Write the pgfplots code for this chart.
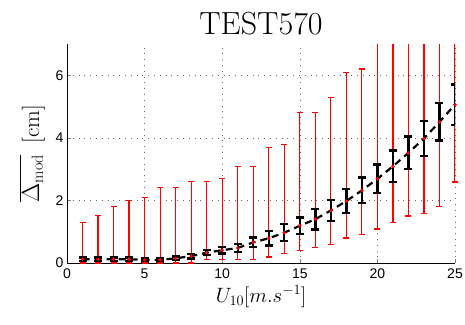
\documentclass[border=0pt]{standalone}
\usepackage{pgfplots}
\pgfplotsset{compat=1.18}
\usepackage{pgfplotstable}
\usepackage{fontspec}
\newfontfamily\ticksfont{Liberation Sans}
\definecolor{myred}{RGB}{255,0,0}
\pgfplotstableread{
x mean be rl rh
1 0.12 0.05 0 1.29
2 0.12 0.05 0 1.51
3 0.12 0.05 0 1.81
4 0.12 0.05 0 2.00
5 0.10 0.05 0 2.10
6 0.10 0.05 0 2.41
7 0.15 0.06 0 2.41
8 0.22 0.07 0 2.60
9 0.33 0.08 0.1 2.60
10 0.41 0.10 0.1 2.71
11 0.48 0.12 0.1 3.09
12 0.66 0.15 0.1 3.09
13 0.79 0.23 0.19 3.70
14 0.97 0.27 0.30 3.79
15 1.19 0.27 0.39 4.81
16 1.40 0.33 0.50 4.81
17 1.68 0.33 0.60 5.29
18 1.98 0.38 0.80 6.09
19 2.32 0.41 0.90 6.20
20 2.69 0.46 1.09 9
21 3.09 0.50 1.29 9
22 3.52 0.52 1.50 9
23 3.98 0.56 1.59 9
24 4.51 0.60 1.80 9
25 5.06 0.65 2.59 9
}\data
\begin{document}
\begin{tikzpicture}
\begin{axis}[
  name=ax,
  scale only axis,
  width=388pt, height=219pt,
  xmin=0, xmax=25, ymin=0, ymax=7,
  axis x line*=bottom, axis y line*=left,
  xtick={0,5,10,15,20,25},
  ytick={0,2,4,6},
  tick align=inside,
  major tick length=4pt,
  grid=major,
  major grid style={gray!80!black, line width=0.6pt, dash pattern=on 0.8pt off 5pt},
  axis line style={line width=0.8pt},
  /pgf/number format/assume math mode=true,
  ticklabel style={font=\ticksfont\fontsize{14}{16}\selectfont},
  xticklabel style={yshift=-2pt},
  title={TEST570},
  title style={font=\fontsize{32}{36}\selectfont, yshift=-1pt},
  xlabel={$U_{10}[m.s^{-1}]$},
  xlabel style={font=\fontsize{21}{24}\selectfont, yshift=0pt},
  ylabel={$\overline{\Delta_{\mathrm{mod}}}\hspace{0.5em}$[cm]},
  ylabel style={font=\fontsize{23}{26}\selectfont, yshift=4pt},
]
% red spread: vertical segments drawn as upper/lower error bars from the table
\addplot[myred, line width=1.2pt, mark=none, draw=none, forget plot,
  error bars/.cd, y dir=plus, y explicit,
  error bar style={myred, line width=1.2pt},
  error mark options={rotate=90, myred, line width=1.2pt, mark size=3pt}]
  table[x=x, y=rl, y error plus expr=\thisrow{rh}-\thisrow{rl}] {\data};
\addplot[myred, only marks, mark=-, mark size=3pt, mark options={line width=1.2pt}, forget plot]
  table[x=x, y=rl] {\data};
\addplot[black, line width=2.2pt, dash pattern=on 7pt off 5pt, mark=none,
  error bars/.cd, y dir=both, y explicit,
  error bar style={black, line width=2.4pt, solid},
  error mark options={rotate=90, black, line width=2.4pt, solid, mark size=4pt}]
  table[x=x, y=mean, y error=be] {\data};
\addplot[myred, only marks, mark=*, mark size=1.6pt] table[x=x, y=mean] {\data};
\end{axis}
\pgfresetboundingbox
\path[use as bounding box] (ax.south west) ++(-67pt,-61pt) rectangle ([shift={(10pt,44pt)}]ax.north east);
\end{tikzpicture}
\end{document}
